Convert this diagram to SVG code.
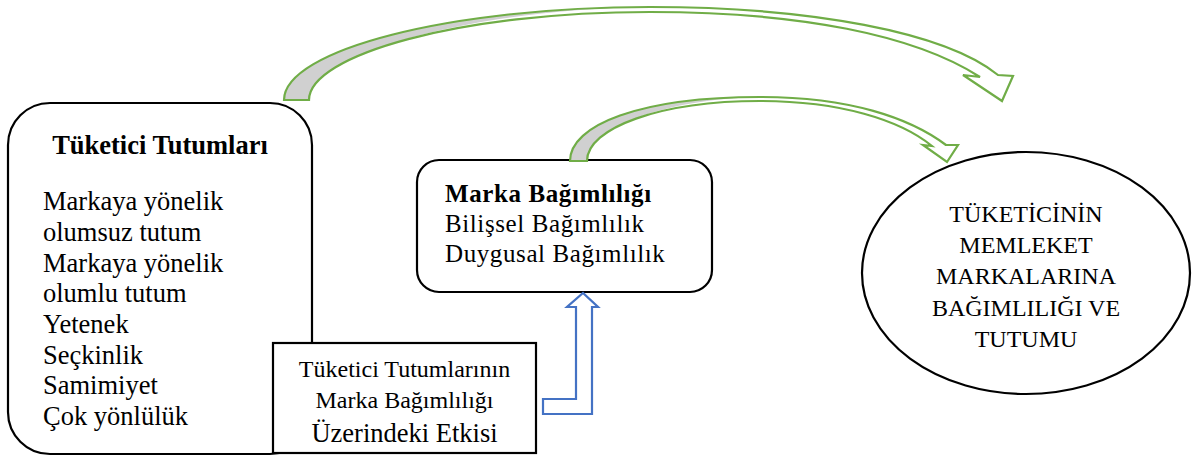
<svg xmlns="http://www.w3.org/2000/svg" width="1194" height="457" viewBox="0 0 1194 457">
  <style>
    .box { fill: #ffffff; stroke: #000000; stroke-width: 2.2; }
    .t { font-family: "Liberation Serif", "Times New Roman", serif; fill: #000000; }
    .b { font-weight: bold; }
    .fillw { fill: #ffffff; stroke: none; }
    .shade { fill: #D0D0D0; stroke: none; }
    .gline { fill: none; stroke: #70AD47; stroke-width: 2.2; stroke-linejoin: miter; }
    .blue { fill: #ffffff; stroke: #4472C4; stroke-width: 2.2; stroke-linejoin: miter; }
  </style>
  <defs>
    <path id="arrow-big" d="M284,100 C284,50 450,7 650,7 C810,7 945,32 998,75 L1013,76 L1002,101 L963,75 L980,77 C915,35 800,12 650,12 C460,12 309,55 309,100 Z"/>
    <path id="arrow-small" d="M570,161 C570,125 640,97 760,97 C850,97 910,118 946,145 L958,145 L947,162 L923,145 L932,146 C900,120 840,101 760,101 C660,101 587,128 587,161 Z"/>
  </defs>

  <g id="node-tuketici-tutumlari">
    <rect class="box" x="8" y="103" width="304" height="351" rx="42" ry="42"/>
    <text class="t b" x="160" y="154" font-size="26.5" text-anchor="middle">Tüketici Tutumları</text>
    <g class="t" font-size="26.5">
      <text x="43" y="210">Markaya yönelik</text>
      <text x="43" y="241">olumsuz tutum</text>
      <text x="43" y="272">Markaya yönelik</text>
      <text x="43" y="302">olumlu tutum</text>
      <text x="43" y="333">Yetenek</text>
      <text x="43" y="364">Seçkinlik</text>
      <text x="43" y="394">Samimiyet</text>
      <text x="43" y="425">Çok yönlülük</text>
    </g>
  </g>

  <g id="node-etki">
    <rect class="box" x="273" y="343" width="263" height="110"/>
    <text class="t" x="404.5" y="377" font-size="24" text-anchor="middle">Tüketici Tutumlarının</text>
    <text class="t" x="404.5" y="408" font-size="24" text-anchor="middle">Marka Bağımlılığı</text>
    <text class="t" x="404.5" y="442" font-size="26.5" text-anchor="middle">Üzerindeki Etkisi</text>
  </g>

  <g id="node-marka-bagimliligi">
    <rect class="box" x="417" y="160" width="295" height="132" rx="22" ry="22"/>
    <g class="t" font-size="25" letter-spacing="0.6">
      <text class="b" x="445" y="202">Marka Bağımlılığı</text>
      <text x="445" y="232">Bilişsel Bağımlılık</text>
      <text x="445" y="262">Duygusal Bağımlılık</text>
    </g>
  </g>

  <g id="node-sonuc">
    <ellipse class="box" cx="1026" cy="273" rx="164" ry="121"/>
    <g class="t" font-size="24" text-anchor="middle">
      <text x="1026" y="222">TÜKETİCİNİN</text>
      <text x="1026" y="253">MEMLEKET</text>
      <text x="1026" y="284">MARKALARINA</text>
      <text x="1026" y="316">BAĞIMLILIĞI VE</text>
      <text x="1026" y="347">TUTUMU</text>
    </g>
  </g>

  <g id="connectors">
    <!-- big curved arrow: Tüketici Tutumları -> ellipse -->
    <use href="#arrow-big" class="fillw"/>
    <path class="shade" d="M284,100 C284,50 450,7 650,7 C470,9 309,55 309,100 Z"/>
    <use href="#arrow-big" class="gline"/>
    <!-- small curved arrow: Marka Bağımlılığı -> ellipse -->
    <use href="#arrow-small" class="fillw"/>
    <path class="shade" d="M570,161 C570,125 640,97 760,97 C665,99 587,128 587,161 Z"/>
    <use href="#arrow-small" class="gline"/>
    <!-- bent-up arrow: Etki -> Marka Bağımlılığı -->
    <path class="blue" d="M543,399 L576,399 L576,307 L567,307 L583,293 L598,307 L592,307 L592,414 L543,414 Z"/>
  </g>
</svg>
